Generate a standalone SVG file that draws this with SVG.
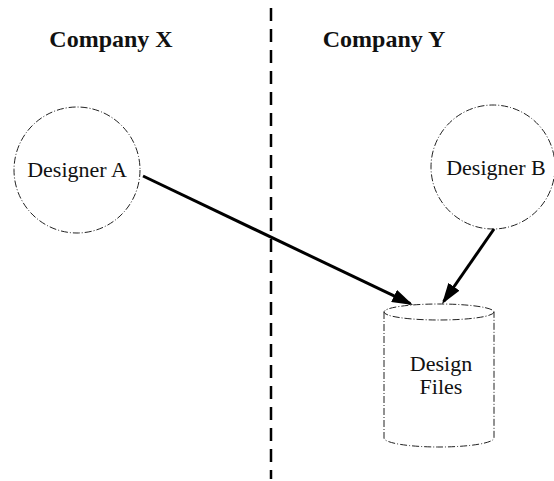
<svg xmlns="http://www.w3.org/2000/svg" width="554" height="481" viewBox="0 0 554 481">
<style>
.title{font-family:"Liberation Serif","Times New Roman",serif;font-weight:bold;font-size:24px;fill:#111}
.lbl{font-family:"Liberation Serif","Times New Roman",serif;font-size:22px;fill:#111}
.outline{fill:none;stroke:#222;stroke-width:1;stroke-dasharray:7 2 1 2}
.edge{stroke:#000;stroke-width:3;fill:none}
</style>
<defs>
<marker id="arr" markerWidth="7" markerHeight="4.5" refX="6" refY="2.25" orient="auto" markerUnits="strokeWidth">
<path d="M0,0 L7,2.25 L0,4.5 Z" fill="#000"/>
</marker>
</defs>
<rect width="554" height="481" fill="#fff"/>
<g id="divider">
<line x1="271" y1="8" x2="271" y2="479" stroke="#000" stroke-width="2.5" stroke-dasharray="13 8"/>
</g>
<g id="companyX"><text class="title" x="111" y="47" text-anchor="middle">Company X</text></g>
<g id="companyY"><text class="title" x="384" y="47" text-anchor="middle">Company Y</text></g>
<g id="designerA">
<circle class="outline" cx="77" cy="170" r="63"/>
<text class="lbl" x="77" y="177" text-anchor="middle">Designer A</text>
</g>
<g id="designerB">
<circle class="outline" cx="493" cy="167" r="62"/>
<text class="lbl" x="496" y="175" text-anchor="middle">Designer B</text>
</g>
<g id="designFiles">
<path class="outline" d="M384,312 L384,438 A55,9 0 0 0 494,438 L494,312"/>
<ellipse class="outline" cx="439" cy="312" rx="55" ry="8"/>
<text class="lbl" x="441" y="371" text-anchor="middle">Design</text>
<text class="lbl" x="441" y="394" text-anchor="middle">Files</text>
</g>
<g id="connectors">
<line class="edge" x1="143" y1="176" x2="410.3" y2="303.7" marker-end="url(#arr)"/>
<line class="edge" x1="494" y1="229" x2="443.7" y2="301.5" marker-end="url(#arr)"/>
</g>
</svg>
